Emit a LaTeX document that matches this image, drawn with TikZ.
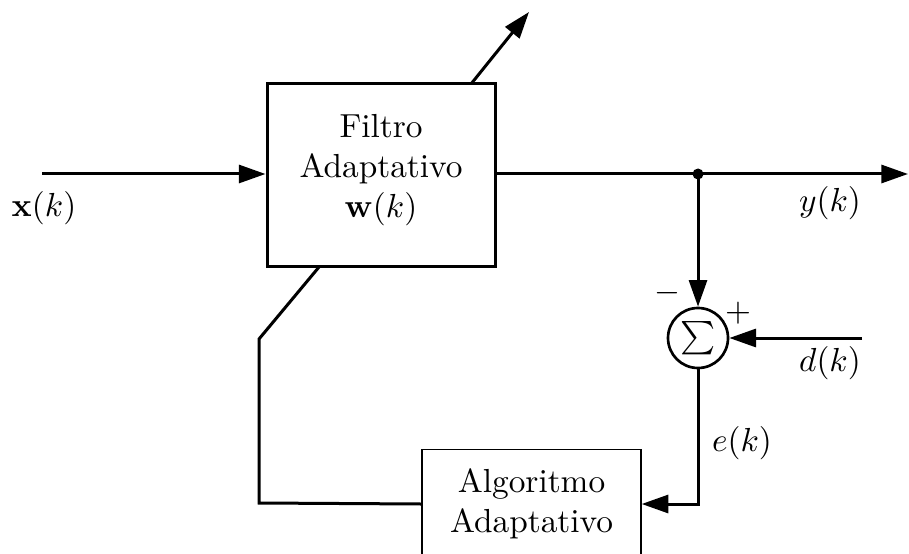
\documentclass[tikz,border=0pt]{standalone}
\usetikzlibrary{arrows.meta}
\begin{document}
\begin{tikzpicture}[x=0.3pt,y=-0.3pt,
  wire/.style={line width=0.9pt},
  sig/.style={wire,-{Triangle[length=8pt,width=5.4pt]}},
  blockbox/.style={draw,line width=0.9pt,minimum width=68.4pt,minimum height=54.9pt},
  algbox/.style={draw,line width=0.4pt,minimum width=65.7pt,minimum height=60pt},
  lbl/.style={inner sep=0pt}]
\useasboundingbox (0,0) rectangle (909,553);
\clip (0,0) rectangle (909,553);
% adaptive filter block
\node[blockbox] (filt) at (381,175.5) {};
\node[lbl,align=center] (ftxt) at (381,170) {Filtro\\Adaptativo\\$\mathbf{w}(k)$};
% adaptive algorithm block (its lower edge runs off the page)
\node[algbox,anchor=north] (alg) at (531.5,449) {};
\node[lbl,align=center] (atxt) at (531.5,504) {Algoritmo\\Adaptativo};
% summing junction
\node[draw,circle,line width=0.8pt,minimum size=18pt,inner sep=0pt] (sum) at (698,338) {$\sum$};
% branch point
\fill (698,174) circle (5.5);
\coordinate (branch) at (698,174);
% free ends
\coordinate (xin) at (42,174);
\coordinate (yout) at (908,174);
\coordinate (din) at (862,338);
\coordinate (tipstart) at (471,84);
\coordinate (tipend) at (529,12);
\coordinate (fb1) at (259,503);
\coordinate (fb2) at (259,339);
\coordinate (fb3) at (319,267);
% connectors
\draw[sig] (xin) -- (filt.west |- xin);
\draw[sig] (filt.east |- yout) -- (yout);
\draw[sig] (branch) -- (sum.north);
\draw[sig] (din) -- (sum.east);
\draw[sig] (sum.south) |- (alg.east |- atxt);
\draw[wire] (alg.west |- atxt) -- (fb1) -- (fb2) -- (fb3);
\draw[sig] (tipstart) -- (tipend);
% labels
\node[lbl] (lx) at (44,208) {$\mathbf{x}(k)$};
\node[lbl] (ly) at (830,203) {$y(k)$};
\node[lbl] (ld) at (830,363) {$d(k)$};
\node[lbl] (le) at (742,443) {$e(k)$};
\node[lbl] (lminus) at (667,293) {$-$};
\node[lbl] (lplus) at (738,313) {$+$};
\end{tikzpicture}
\end{document}
